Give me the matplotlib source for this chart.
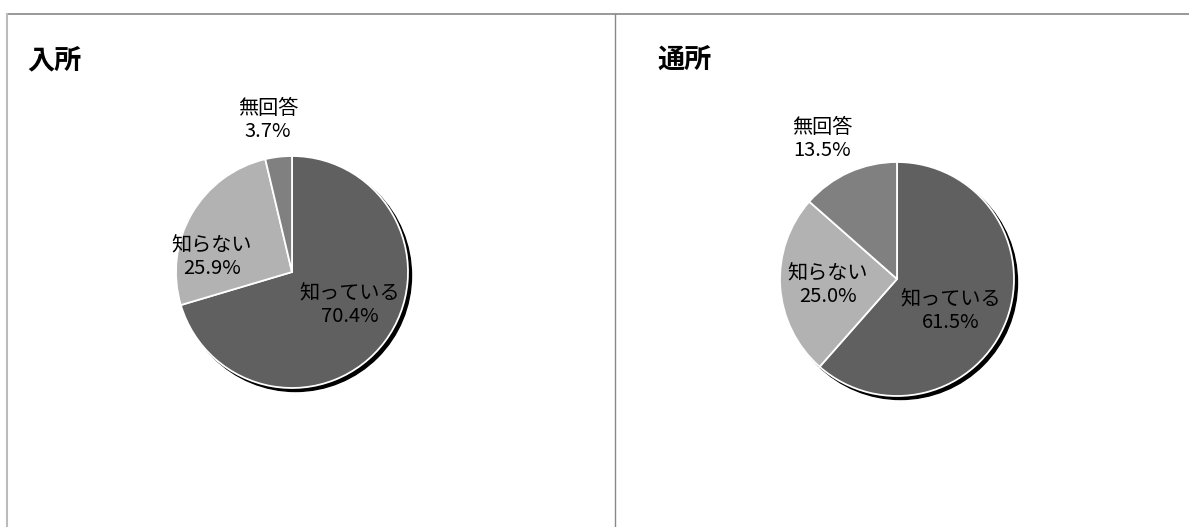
import numpy as np
import matplotlib
matplotlib.use('Agg')
import matplotlib.pyplot as plt
from matplotlib.patches import Circle

plt.rcParams['font.family'] = ['Noto Sans CJK JP', 'DejaVu Sans']

# data
categories = ['知っている', '知らない', '無回答']
nyusho = [70.4, 25.9, 3.7]
tsusho = [61.5, 25.0, 13.5]
titles = ['入所', '通所']
colors = ['#606060', '#b2b2b2', '#808080']

W, H = 1189, 527
fig = plt.figure(figsize=(W / 100, H / 100), dpi=100)
ax = fig.add_axes([0, 0, 1, 1])

# panel layout (pixels, y measured from top)
panels = [
    dict(vals=nyusho, title=titles[0], tx=27, cx=292, cy=272, r=116,
         lab=[(350, 305), (212, 257), (268, 120)]),
    dict(vals=tsusho, title=titles[1], tx=657, cx=897, cy=279, r=117,
         lab=[(951, 311), (828, 285), (822, 139)]),
]

for p in panels:
    cx, cy = p['cx'], H - p['cy']
    # drop shadow
    ax.add_patch(Circle((cx + 3.5, cy - 3.5), p['r'], color='black', zorder=1))
    ax.pie(p['vals'], colors=colors, startangle=90, counterclock=False,
           center=(cx, cy), radius=p['r'], frame=True,
           wedgeprops=dict(edgecolor='white', linewidth=1.3, zorder=2))
    for name, v, (lx, ly) in zip(categories, p['vals'], p['lab']):
        ax.text(lx, H - ly, f'{name}\n{v:.1f}%', ha='center', va='center',
                fontsize=14.5, linespacing=1.1, zorder=5)
    ax.text(p['tx'], H - 60, p['title'], ha='left', va='center',
            fontsize=19.5, fontweight='bold')

# frame lines
ax.plot([7, W], [H - 14, H - 14], color='#888888', lw=1.2)
ax.plot([7, 7], [0, H - 14], color='#bbbbbb', lw=1.5)
ax.plot([615, 615], [0, H - 14], color='#888888', lw=1.0)

ax.set_xlim(0, W)
ax.set_ylim(0, H)
ax.set_aspect('auto')
ax.axis('off')

fig.savefig('out.png', dpi=100)
